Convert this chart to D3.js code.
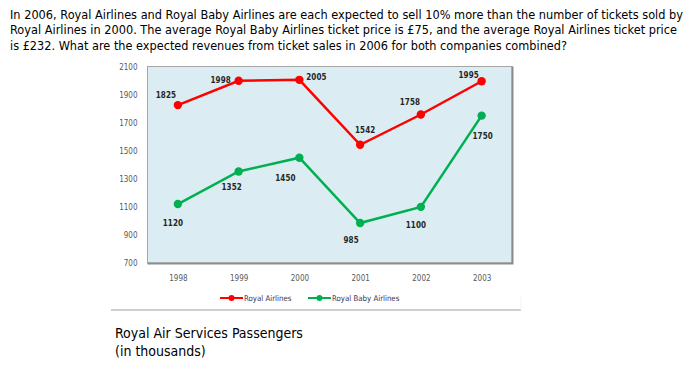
<!DOCTYPE html>
<html>
<head>
<meta charset="utf-8">
<script src="https://cdn.jsdelivr.net/npm/d3@7"></script>
<style>
  body { margin: 0; background: #fff; }
  svg { display: block; }
</style>
</head>
<body>
<div id="container"></div>
<script>
// chart values
var years = ["1998", "1999", "2000", "2001", "2002", "2003"];
var royalAirlines = [1825, 1998, 2005, 1542, 1758, 1995];
var royalBabyAirlines = [1120, 1352, 1450, 985, 1100, 1750];
var yTicks = [700, 900, 1100, 1300, 1500, 1700, 1900, 2100];
var seriesNames = ["Royal Airlines", "Royal Baby Airlines"];
var questionLines = [
    "In 2006, Royal Airlines and Royal Baby Airlines are each expected to sell 10% more than the number of tickets sold by",
    "Royal Airlines in 2000. The average Royal Baby Airlines ticket price is \u00a375, and the average Royal Airlines ticket price",
    "is \u00a3232. What are the expected revenues from ticket sales in 2006 for both companies combined?"
];
var captionLines = ["Royal Air Services Passengers", "(in thousands)"];

// where the value labels sit relative to each point
var redLabelOffset = [[-12, -10], [-18, 0], [17, -2], [5, -14], [-11, -12], [-13, -6]];
var greenLabelOffset = [[-5, 19], [-7, 16], [-14, 21], [-9, 18], [-5, 19], [1, 21]];

var W = 698, H = 370;
var plot = { left: 147.5, top: 66.5, right: 512, bottom: 263 };

var svg = d3.select("#container")
    .append("svg")
    .attr("width", W)
    .attr("height", H);

// question text
var qWidths = [673, 667, 557];
svg.selectAll("text.q")
    .data(questionLines)
    .enter()
    .append("text")
    .attr("class", "q")
    .attr("x", 10)
    .attr("y", function (d, i) { return 18.5 + i * 15.8; })
    .attr("textLength", function (d, i) { return qWidths[i]; })
    .attr("lengthAdjust", "spacingAndGlyphs")
    .style("font-family", "'DejaVu Sans', Verdana, sans-serif")
    .style("font-size", "11.5px")
    .style("fill", "#000")
    .text(function (d) { return d; });

var x = d3.scalePoint()
    .domain(years)
    .range([plot.left, plot.right])
    .padding(0.5);

var y = d3.scaleLinear()
    .domain([700, 2100])
    .range([plot.bottom, plot.top]);

// plot area
svg.append("rect")
    .attr("x", plot.left)
    .attr("y", plot.top)
    .attr("width", plot.right - plot.left)
    .attr("height", plot.bottom - plot.top)
    .attr("fill", "#dbedf3")
    .attr("stroke", "#a6a6a6")
    .attr("stroke-width", 1);

// shadow on right and bottom
svg.append("path")
    .attr("d", "M" + (plot.right + 0.5) + "," + plot.top + "V" + (plot.bottom + 0.5) + "H" + plot.left)
    .attr("fill", "none")
    .attr("stroke", "#8c8c8c")
    .attr("stroke-width", 2);

// y axis
var yAxis = svg.append("g")
    .attr("transform", "translate(" + (plot.left - 10) + ",0)")
    .call(d3.axisLeft(y).tickValues(yTicks).tickFormat(d3.format("d")).tickSize(0).tickPadding(0));
yAxis.select(".domain").remove();
yAxis.selectAll("text")
    .style("font-family", "'DejaVu Sans Condensed', 'DejaVu Sans', sans-serif")
    .style("font-size", "8px")
    .style("fill", "#595959");

// x axis
var xAxis = svg.append("g")
    .attr("transform", "translate(0," + (plot.bottom + 12) + ")")
    .call(d3.axisBottom(x).tickSize(0).tickPadding(0));
xAxis.select(".domain").remove();
xAxis.selectAll("text")
    .style("font-family", "'DejaVu Sans Condensed', 'DejaVu Sans', sans-serif")
    .style("font-size", "8px")
    .style("fill", "#595959");

var line = d3.line()
    .x(function (d, i) { return x(years[i]); })
    .y(function (d) { return y(d); });

function drawSeries(values, color, offsets)
{
    svg.append("path")
        .datum(values)
        .attr("fill", "none")
        .attr("stroke", color)
        .attr("stroke-width", 2.5)
        .attr("d", line);

    svg.selectAll(null)
        .data(values)
        .enter()
        .append("circle")
        .attr("fill", color)
        .attr("cx", function (d, i) { return x(years[i]); })
        .attr("cy", function (d) { return y(d); })
        .attr("r", 4.2);

    svg.selectAll(null)
        .data(values)
        .enter()
        .append("text")
        .attr("x", function (d, i) { return x(years[i]) + offsets[i][0]; })
        .attr("y", function (d, i) { return y(d) + offsets[i][1]; })
        .attr("text-anchor", "middle")
        .attr("dominant-baseline", "central")
        .style("font-family", "'DejaVu Sans Condensed', 'DejaVu Sans', sans-serif")
        .style("font-size", "8px")
        .style("font-weight", "bold")
        .style("fill", "#262626")
        .text(function (d) { return d; });
}

drawSeries(royalAirlines, "#ff0000", redLabelOffset);
drawSeries(royalBabyAirlines, "#00b050", greenLabelOffset);

// legend
var legendColors = ["#ff0000", "#00b050"];
var legendX = [220, 308];
var legend = svg.selectAll("g.legend")
    .data(seriesNames)
    .enter()
    .append("g")
    .attr("class", "legend")
    .attr("transform", function (d, i) { return "translate(" + legendX[i] + ",298)"; });
legend.append("line")
    .attr("x1", 0).attr("x2", 23)
    .attr("stroke", function (d, i) { return legendColors[i]; })
    .attr("stroke-width", 2);
legend.append("circle")
    .attr("cx", 11.5)
    .attr("r", 3)
    .attr("fill", function (d, i) { return legendColors[i]; });
legend.append("text")
    .attr("x", 24)
    .attr("dominant-baseline", "central")
    .style("font-family", "'DejaVu Sans Condensed', 'DejaVu Sans', sans-serif")
    .style("font-size", "7.8px")
    .style("fill", "#403152")
    .text(function (d) { return d; });

// frame line under the chart
svg.append("line")
    .attr("x1", 111).attr("x2", 521)
    .attr("y1", 310).attr("y2", 310)
    .attr("stroke", "#bfbfbf")
    .attr("stroke-width", 1.5);
svg.append("line")
    .attr("x1", 521).attr("x2", 521)
    .attr("y1", 295).attr("y2", 310)
    .attr("stroke", "#f4f4f4")
    .attr("stroke-width", 1);

// caption
svg.selectAll("text.cap")
    .data(captionLines)
    .enter()
    .append("text")
    .attr("class", "cap")
    .attr("x", 115)
    .attr("y", function (d, i) { return 338 + i * 17.5; })
    .style("font-family", "'DejaVu Sans Condensed', 'DejaVu Sans', sans-serif")
    .style("font-size", "14px")
    .style("fill", "#000")
    .text(function (d) { return d; });
</script>
</body>
</html>
